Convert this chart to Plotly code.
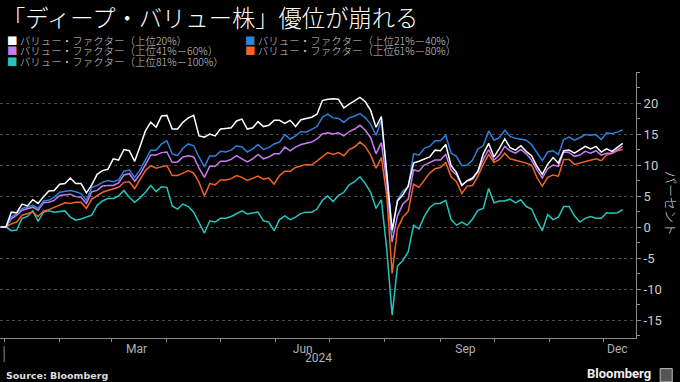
import pandas as pd
import plotly.graph_objects as go

# ---- data ----
dates = pd.date_range("2023-12-30", periods=117, freq="3D")

series_names = [
    "バリュー・ファクター（上位20%）",
    "バリュー・ファクター（上位21%－40%）",
    "バリュー・ファクター（上位41%－60%）",
    "バリュー・ファクター（上位61%－80%）",
    "バリュー・ファクター（上位81%－100%）",
]

top20 = [0, 0, 2.4, 2.3, 3.7, 3.4, 4.4, 3.8, 4.9, 5.8,
         5.9, 6.9, 7.0, 7.9, 7.0, 7.0, 5.5, 6.8, 8.5, 9.1,
         9.3, 11.0, 10.8, 12.5, 12.3, 10.6, 13.0, 15.5, 16.9, 16.1,
         17.9, 18.0, 15.8, 15.8, 16.9, 17.6, 18.0, 14.7, 14.5, 15.0,
         14.7, 15.8, 15.9, 16.0, 17.1, 17.4, 15.8, 16.0, 17.0, 16.2,
         16.4, 17.2, 17.2, 16.7, 17.2, 16.2, 17.3, 17.5, 17.7, 18.2,
         20.4, 20.6, 20.7, 20.6, 19.2, 19.8, 20.3, 20.9, 20.2, 18.8,
         16.1, 17.8, 8.6, -0.5, 4.2, 5.2, 6.6, 10.3, 10.6, 11.0,
         11.3, 12.4, 12.3, 13.3, 9.9, 8.8, 6.7, 7.5, 7.9, 9.0,
         11.8, 13.5, 11.3, 12.7, 14.2, 12.8, 12.4, 13.1, 12.2, 11.5,
         9.8, 8.5, 10.1, 11.2, 10.3, 12.3, 12.4, 11.9, 12.4, 13.0,
         12.6, 13.0, 12.1, 12.6, 12.2, 12.8, 13.5]

top21_40 = [0, 0, 1.6, 2.2, 3.0, 3.3, 3.5, 3.0, 4.2, 4.3,
            4.8, 5.6, 5.7, 5.9, 5.7, 5.4, 4.3, 6.4, 6.7, 7.2,
            7.5, 7.3, 7.6, 9.0, 9.2, 8.0, 9.2, 10.7, 12.4, 12.4,
            13.4, 13.9, 11.8, 11.5, 12.7, 13.4, 13.1, 11.3, 9.7, 11.5,
            11.4, 12.2, 12.1, 12.4, 13.1, 12.9, 12.1, 12.6, 13.3, 12.5,
            12.8, 13.4, 13.7, 14.9, 14.2, 14.7, 15.4, 15.3, 15.8, 16.2,
            17.7, 18.2, 17.6, 17.5, 16.9, 17.6, 17.9, 18.3, 17.6, 16.6,
            14.8, 17.2, 8.7, -1.0, 4.4, 5.8, 6.5, 11.8, 11.6, 12.7,
            13.0, 13.9, 13.9, 14.8, 11.9, 11.4, 9.9, 10.0, 10.8, 12.6,
            13.1, 15.5, 14.0, 14.4, 15.6, 14.6, 14.3, 14.1, 14.0, 13.3,
            11.9, 10.7, 12.1, 12.3, 11.7, 14.1, 14.5, 14.0, 14.4, 14.9,
            14.8, 14.9, 14.1, 15.2, 15.1, 15.3, 15.7]

top41_60 = [0, 0, 1.3, 1.9, 2.7, 3.0, 3.2, 2.7, 3.9, 4.0,
            4.3, 5.1, 5.2, 5.3, 4.9, 4.8, 3.8, 5.7, 5.9, 6.6,
            6.7, 6.7, 7.1, 8.4, 8.6, 7.4, 8.5, 10.1, 11.6, 11.6,
            12.0, 12.1, 10.4, 10.5, 11.3, 11.5, 11.3, 9.5, 8.0, 9.8,
            9.8, 10.6, 10.6, 10.9, 11.5, 11.0, 10.5, 11.0, 11.7, 11.0,
            11.3, 11.8, 11.8, 12.9, 12.3, 12.9, 13.3, 13.5, 13.7, 14.2,
            15.0, 15.2, 15.0, 15.2, 14.7, 15.4, 15.8, 16.4, 15.6, 14.4,
            11.8, 13.6, 7.2, -2.4, 1.8, 3.7, 4.5, 9.2, 9.0, 10.0,
            10.4, 10.8, 10.8, 11.7, 9.2, 8.4, 6.8, 7.4, 7.7, 8.9,
            10.9, 12.5, 10.8, 11.6, 13.0, 12.3, 11.9, 12.5, 11.8, 10.8,
            9.2, 7.9, 9.4, 10.0, 9.8, 12.1, 12.0, 11.4, 11.6, 12.2,
            11.9, 12.3, 11.6, 11.9, 11.9, 12.4, 13.0]

top61_80 = [0, 0, 0.5, 0.8, 1.9, 2.1, 2.4, 1.7, 2.6, 2.8,
            3.2, 3.5, 3.9, 3.8, 4.0, 4.0, 3.0, 4.5, 5.0, 5.6,
            5.9, 6.1, 6.4, 7.2, 7.3, 6.2, 7.6, 9.1, 9.9, 9.5,
            9.7, 9.9, 8.3, 8.3, 8.7, 9.1, 8.7, 7.2, 5.0, 7.0,
            6.8, 7.6, 7.6, 7.8, 8.3, 8.0, 7.5, 7.8, 8.2, 7.7,
            7.9, 6.9, 8.3, 9.0, 9.0, 9.6, 9.9, 10.1, 10.0, 10.7,
            11.4, 12.0, 11.7, 12.0, 11.5, 12.5, 12.9, 13.7, 13.0, 11.6,
            9.5, 11.2, 5.1, -7.5, -0.3, 1.6, 2.5, 6.9, 6.4, 7.6,
            8.7, 9.4, 9.6, 10.4, 8.1, 7.3, 5.4, 6.6, 6.7, 8.2,
            10.1, 11.7, 10.4, 10.9, 11.9, 11.0, 10.8, 10.5, 10.3, 10.0,
            8.0, 6.6, 8.0, 8.4, 8.2, 10.9, 10.9, 10.1, 10.3, 10.6,
            10.8, 11.0, 10.7, 11.6, 11.9, 12.3, 12.5]

top81_100 = [0, 0, -0.6, -0.5, 1.4, 1.7, 2.6, 0.9, 2.4, 2.6,
             2.4, 2.5, 2.6, 1.6, 1.1, 1.3, 1.6, 1.9, 3.5, 4.2,
             4.6, 4.6, 5.0, 5.9, 4.8, 4.0, 4.7, 5.6, 6.7, 5.7,
             6.5, 6.4, 3.4, 2.9, 3.7, 3.3, 2.4, 0.8, -1.0, 1.0,
             0.8, 1.4, 1.4, 1.7, 2.1, 2.6, 2.1, 2.3, 2.4, 1.0,
             0.8, -0.6, 1.2, 1.8, 1.2, 1.6, 2.2, 2.4, 2.4, 2.9,
             4.3, 5.0, 4.1, 5.1, 5.6, 6.8, 7.3, 8.1, 7.0, 5.6,
             3.0, 4.4, -3.6, -14.2, -6.3, -5.4, -4.0, 0.3, -0.3, 1.7,
             3.1, 3.8, 3.8, 4.3, 1.2, 0.3, 0.8, 0.3, 1.3, 2.7,
             3.0, 6.2, 3.9, 4.2, 4.2, 4.5, 3.9, 4.4, 3.3, 2.9,
             1.0, -0.6, 2.0, 1.2, 1.6, 3.3, 3.3, 1.8, 0.8, 1.4,
             1.7, 1.4, 1.4, 2.3, 2.2, 2.3, 2.8]

x_tick_vals = ["2024-03-15", "2024-06-16", "2024-09-15", "2024-12-09"]
x_tick_labels = ["Mar", "Jun", "Sep", "Dec"]
y_tick_vals = [-15, -10, -5, 0, 5, 10, 15, 20]
y_tick_labels = ["-15", "-10", "-5", "0", "5", "10", "15", "20"]

colors = ["#ffffff", "#2f7fdc", "#c77cf0", "#f2641f", "#26c4bf"]
values = [top20, top21_40, top41_60, top61_80, top81_100]

JP = "Noto Sans CJK JP"
NARROW = "Liberation Sans Narrow, Roboto, sans-serif"

fig = go.Figure()
draw_order = [4, 3, 2, 1, 0]
for i in draw_order:
    fig.add_trace(go.Scatter(
        x=dates, y=values[i], mode="lines", name=series_names[i],
        line=dict(color=colors[i], width=1.5), showlegend=False,
    ))

fig.update_layout(
    width=680, height=382,
    margin=dict(l=0, r=44, t=72, b=44, autoexpand=False),
    paper_bgcolor="#000000", plot_bgcolor="#000000",
    font=dict(family=JP, color="#cccccc"),
    xaxis=dict(
        range=["2023-12-29 16:00", "2024-12-19 10:00"],
        tickmode="array", tickvals=x_tick_vals, ticktext=x_tick_labels,
        ticks="", tickfont=dict(family=NARROW, size=12, color="#b0b0b0"),
        showline=True, linecolor="#8a8a8a", linewidth=1,
        showgrid=False, zeroline=False, automargin=False,
        minor=dict(dtick="M1", tick0="2024-01-01", ticks="outside",
                   ticklen=3, tickcolor="#8a8a8a", showgrid=False),
    ),
    yaxis=dict(
        side="right", range=[-17.9, 25],
        tickmode="array", tickvals=y_tick_vals, ticktext=y_tick_labels,
        ticks="outside", ticklen=4, tickcolor="#8a8a8a",
        tickfont=dict(family=NARROW, size=13, color="#cccccc"),
        showline=True, linecolor="#8a8a8a", linewidth=1,
        showgrid=True, gridcolor="#4a4a4a", griddash="dot", gridwidth=1,
        zeroline=False, automargin=False,
        minor=dict(dtick=2.5, tick0=0, ticks="outside", ticklen=3,
                   tickcolor="#8a8a8a", showgrid=False),
    ),
)

annotations = []
# title
annotations.append(dict(
    text="「ディープ・バリュー株」優位が崩れる", xref="paper", yref="paper",
    x=0.0, y=1.207, xanchor="left", yanchor="middle", showarrow=False,
    font=dict(family=JP, size=23.3, color="#ffffff", weight=300),
))
# legend
leg_pos = [(0.0079, 1.120), (0.382, 1.120), (0.0079, 1.081), (0.382, 1.081), (0.0079, 1.040)]
for (lx, ly), name, col in zip(leg_pos, series_names, colors):
    annotations.append(dict(
        text=f"<span style='color:{col}'>■</span> {name}",
        xref="paper", yref="paper", x=lx, y=ly, xanchor="left", yanchor="middle",
        showarrow=False, font=dict(family=JP, size=10.5, color="#cccccc", weight=300),
    ))
# y-axis title
annotations.append(dict(
    text="パーセント", xref="paper", yref="paper", x=1.056, y=0.505,
    xanchor="center", yanchor="middle", textangle=90, showarrow=False,
    font=dict(family=JP, size=13, color="#cccccc", weight=300),
))
# year label
annotations.append(dict(
    text="2024", xref="x", yref="paper", x="2024-06-25", y=-0.075,
    xanchor="center", yanchor="middle", showarrow=False,
    font=dict(family=NARROW, size=12, color="#b0b0b0"),
))
# footer
annotations.append(dict(
    text="<b>Source: Bloomberg</b>", xref="paper", yref="paper", x=0.006, y=-0.14,
    xanchor="left", yanchor="middle", showarrow=False,
    font=dict(family="DejaVu Sans", size=9.5, color="#dddddd"),
))
annotations.append(dict(
    text="<b>Bloomberg</b>", xref="paper", yref="paper", x=1.027, y=-0.135,
    xanchor="right", yanchor="middle", showarrow=False,
    font=dict(family="Roboto", size=13, color="#eeeeee"),
))
fig.update_layout(annotations=annotations)

# year divider tick at Jan 1 and logo box
fig.add_shape(type="line", xref="x", yref="paper", x0="2024-01-01", x1="2024-01-01",
              y0=-0.03, y1=-0.09, line=dict(color="#8a8a8a", width=1))
fig.add_shape(type="rect", xref="paper", yref="paper", x0=1.038, x1=1.057,
              y0=-0.165, y1=-0.115, line=dict(color="#bbbbbb", width=1), fillcolor="#555555")

fig.write_html(
    "out.html",
    config={"displayModeBar": False},
    post_script="document.body.style.margin='0';document.body.style.overflow='hidden';",
)
